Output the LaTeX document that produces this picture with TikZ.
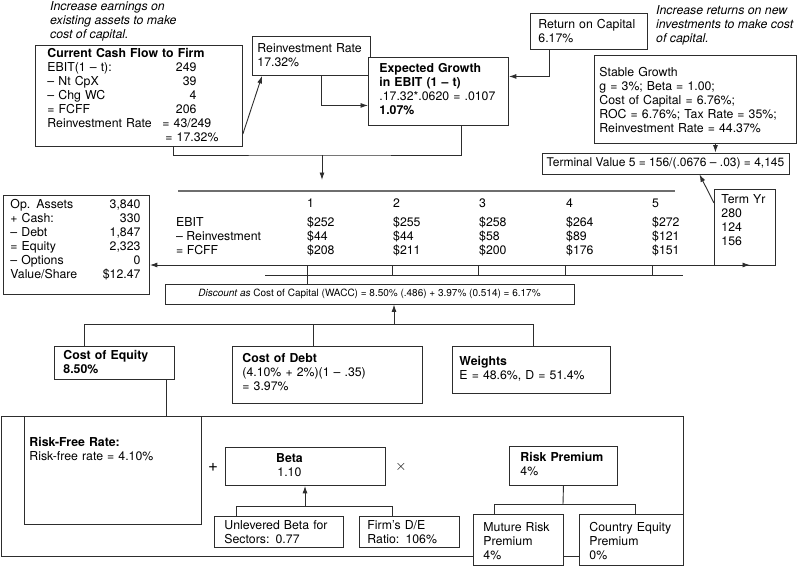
\documentclass[tikz,border=0pt]{standalone}
\usepackage{fontspec}
\setmainfont{TeX Gyre Heros}
\usetikzlibrary{arrows.meta}
\definecolor{lineGray}{RGB}{45,45,45}
\definecolor{rulerGray}{RGB}{110,110,110}

\begin{document}
\begin{tikzpicture}[
x=1pt, y=-1pt,
every node/.style={
	font=\fontsize{12.3}{14}\selectfont
	},
box/.style={
	draw=lineGray, line width=0.9pt, fill=white, anchor=north west,
	align=left, inner ysep=0pt
	},
note/.style={
	anchor=base west, align=left, inner sep=0pt,
	font=\fontsize{12.3}{14}\selectfont\itshape
	},
txt/.style={
	anchor=base west, align=left, inner sep=0pt
	},
sign/.style={
	font=\fontsize{17}{17}\selectfont
	},
link/.style={
	draw=lineGray, line width=0.9pt
	},
linkArr/.style={
	link, -{Latex[length=7.5pt,width=5pt]}
	}
]
\useasboundingbox (0,0) rectangle (797,566);

% NOTES (anchored at the baseline of the last line)
\node [note] (noteAssets) at (50,38) {Increase earnings on\\existing assets to make\\cost of capital.};
\node [note] (noteReturns) at (656,42) {Increase returns on new\\investments to make cost\\of capital.};

% GROWTH NODES
\node [box, inner xsep=12pt, text width=183pt, text height=12pt, text depth=89pt] (cash) at (35,45) {\textbf{Current Cash Flow to Firm}\\
\makebox[149pt]{EBIT(1 – t):\hfill 249}\\
\makebox[149pt]{– Nt CpX\hfill 39}\\
\makebox[149pt]{– Chg WC\hfill 4}\\
\makebox[149pt]{= FCFF\hfill 206}\\
\makebox[115pt][l]{Reinvestment Rate}= 43/249\\
\hspace*{118pt}= 17.32\%};
\node [box, inner xsep=5pt, text width=108pt, text height=16pt, text depth=23pt] (reinv) at (252,36) {Reinvestment Rate\\17.32\%};
\node [box, inner xsep=11pt, text width=118pt, text height=15pt, text depth=53pt] (growth) at (368,57) {\textbf{Expected Growth}\\\textbf{in EBIT (1 – t)}\\.17.32*.0620 = .0107\\\textbf{1.07\%}};
\node [box, inner xsep=8pt, text width=101pt, text height=15pt, text depth=21pt] (roc) at (530,13) {Return on Capital\\6.17\%};
\node [box, inner xsep=5pt, text width=192pt, text height=21pt, text depth=67pt] (stable) at (594,55) {Stable Growth\\g = 3\%; Beta = 1.00;\\Cost of Capital = 6.76\%;\\ROC = 6.76\%; Tax Rate = 35\%;\\Reinvestment Rate = 44.37\%};
\node [box, anchor=center, inner sep=0pt, minimum width=247pt, minimum height=21pt, font=\fontsize{12}{14}\selectfont] (tv) at (665.5,163.5) {Terminal Value 5 = 156/(.0676 – .03) = 4,145};

% TIMELINE NODES
\node [box, inner xsep=7pt, text width=132pt, text height=13pt, text depth=86pt] (opassets) at (3,195) {\makebox[130pt]{Op. Assets\hfill 3,840}\\
\makebox[130pt]{+ Cash:\hfill 330}\\
\makebox[130pt]{– Debt\hfill 1,847}\\
\makebox[130pt]{= Equity\hfill 2,323}\\
\makebox[130pt]{– Options\hfill 0}\\
\makebox[130pt]{Value/Share\hfill \$12.47}};
\node [box, inner xsep=7pt, text width=47pt, text height=14pt, text depth=62pt] (termyr) at (714,189) {Term Yr\\280\\124\\156};
\node [txt] (tlLabels) at (176,254) {EBIT\\– Reinvestment\\= FCFF};
\foreach \yr/\xpos/\ebit/\rein/\fcff in {1/307/252/44/208, 2/393/255/44/211, 3/479/258/58/200, 4/566/264/89/176, 5/652/272/121/151}{
	\node [txt] (yr\yr) at (\xpos,207) {\yr};
	\node [txt] (col\yr) at (\xpos,254) {\$\ebit\\\$\rein\\\$\fcff};
}
\node [box, anchor=center, inner sep=0pt, minimum width=409pt, minimum height=20pt, font=\fontsize{10}{12}\selectfont] (discount) at (369.5,294) {\textit{Discount as} Cost of Capital (WACC) = 8.50\% (.486) + 3.97\% (0.514) = 6.17\%};

% WACC NODES
\node [box, inner xsep=9pt, text width=102pt, text height=13pt, text depth=20pt] (coe) at (54,346) {\textbf{Cost of Equity}\\\textbf{8.50\%}};
\node [box, inner xsep=10pt, text width=170pt, text height=16pt, text depth=41pt] (cod) at (232,346) {\textbf{Cost of Debt}\\(4.10\% + 2\%)(1 – .35)\\= 3.97\%};
\node [box, inner xsep=7pt, text width=144pt, text height=19pt, text depth=28pt] (weights) at (452,346) {\textbf{Weights}\\E = 48.6\%, D = 51.4\%};

% CAPM NODES
\node [box, fill=none, inner sep=0pt, minimum width=682pt, minimum height=140pt] (capm) at (1,416) {};
\node [box, inner xsep=5pt, text width=167pt, text height=30pt, text depth=78pt] (riskfree) at (24,416) {\textbf{Risk-Free Rate:}\\Risk-free rate = 4.10\%};
\node [sign] (plus) at (213,467) {+};
\node [box, inner xsep=0pt, text width=160pt, text height=15pt, text depth=23pt] (beta) at (225,447) {\makebox[128pt]{\textbf{Beta}}\\\makebox[128pt]{1.10}};
\node [sign, font=\fontsize{15}{15}\selectfont] (times) at (401,467) {$\times$};
\node [box, inner xsep=11pt, text width=86pt, text height=15pt, text depth=24pt] (riskprem) at (509,446) {\textbf{Risk Premium}\\4\%};
\node [box, inner xsep=10pt, text width=109pt, text height=13pt, text depth=18pt] (unlev) at (214,516) {Unlevered Beta for\\Sectors: 0.77};
\node [box, inner xsep=8pt, text width=84pt, text height=13pt, text depth=18pt] (firm) at (359,516) {Firm's D/E\\Ratio: 106\%};
\node [box, inner xsep=10pt, text width=70pt, text height=17pt, text depth=34pt] (mature) at (473,514) {Muture Risk\\Premium\\4\%};
\node [box, inner xsep=10pt, text width=84pt, text height=17pt, text depth=34pt] (country) at (579,514) {Country Equity\\Premium\\0\%};

% PATHS
\draw [linkArr] ([yshift=13pt]cash.south east) -- ([xshift=10pt]reinv.south west);
\draw [linkArr] ([xshift=10pt]reinv.south) |- ([yshift=-14pt]growth.west);
\draw [linkArr] ([xshift=19pt]roc.south west) |- ([yshift=15pt]growth.east);
\coordinate (stableOut) at ([xshift=20pt]stable.south);
\draw [linkArr] (stableOut) -- (stableOut |- tv.north);
\draw [linkArr] ([yshift=-14pt]termyr.north west) -- ([xshift=34pt]tv.south);

\coordinate (join) at (322,155);
\coordinate (tlArr) at (322,180);
\draw [link] ([xshift=34.5pt]cash.south) |- (join) -| ([xshift=23pt]growth.south);
\draw [linkArr] (join) -- (tlArr);
\draw [draw=rulerGray, line width=1.6pt] (178,191) -- (675,191);
\coordinate (tlEnd) at (750,265);
\draw [link, {Latex[length=7.5pt,width=5pt]}-{Latex[length=7.5pt,width=5pt]}] (tlEnd -| opassets.east) -- (tlEnd);
\draw [link] (265,275) -- (683,275);
\foreach \xpos in {392,478,565,652} \draw [link] (\xpos,265) -- (\xpos,275);
\coordinate (tick1) at (307,265);
\draw [link] (tick1) -- (tick1 |- discount.north);

\coordinate (waccJoin) at (394,324);
\coordinate (codTop) at ([xshift=81pt]cod.north west);
\coordinate (coeOut) at ([xshift=-8pt]coe.south east);
\draw [link] ([xshift=30pt]coe.north west) |- (waccJoin) -| ([xshift=81pt]weights.north west);
\draw [link] (codTop) -- (codTop |- waccJoin);
\draw [linkArr] (waccJoin) -- (waccJoin |- discount.south);
\draw [link] (coeOut) -- (coeOut |- capm.north);

\coordinate (betaJoin) at (305,506);
\draw [link] ([xshift=22pt]unlev.north west) |- (betaJoin) -| ([xshift=33pt]firm.north west);
\draw [linkArr] (betaJoin) -- (betaJoin |- beta.south);

\coordinate (premJoin) at (563,504);
\draw [link] ([xshift=21pt]mature.north west) |- (premJoin) -| ([xshift=56pt]country.north west);
\draw [link] (riskprem.south) -- (premJoin);
\end{tikzpicture}
\end{document}
